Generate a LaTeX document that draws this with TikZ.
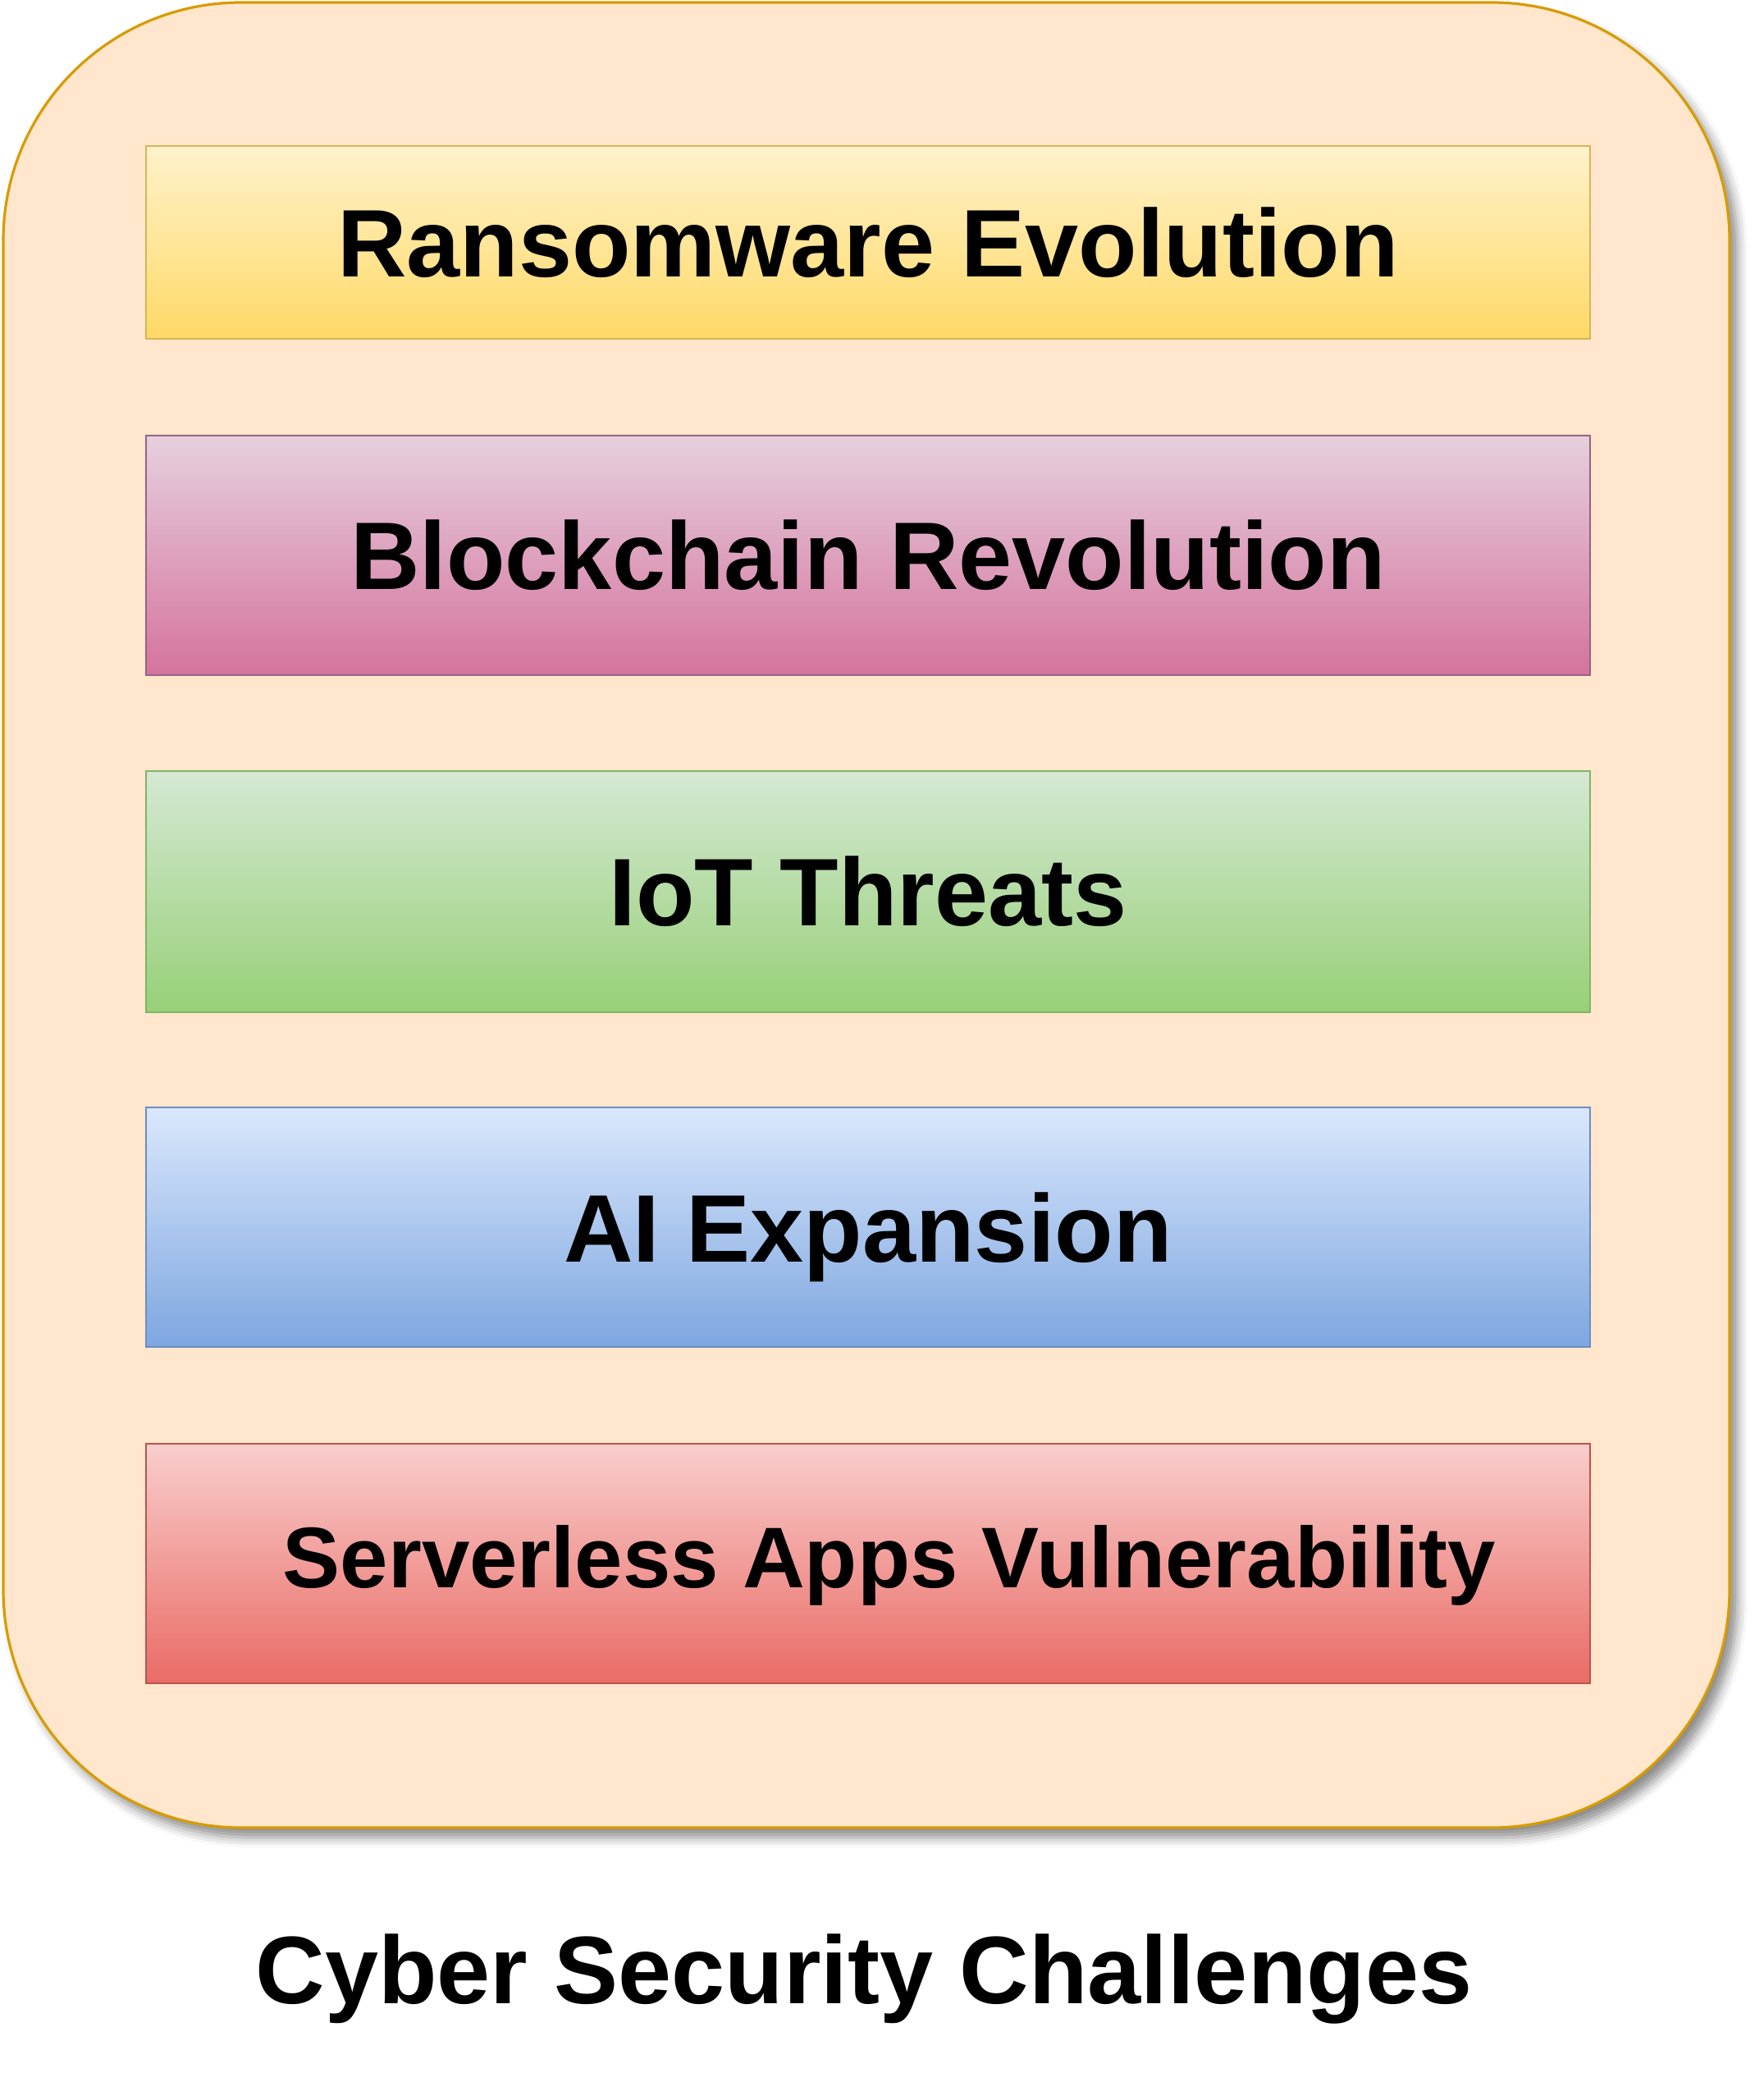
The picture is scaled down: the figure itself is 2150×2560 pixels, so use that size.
\documentclass[tikz,border=0pt]{standalone}
\usepackage{fontspec}
\setmainfont{Liberation Sans}
\usetikzlibrary{shadows,shadows.blur}
\definecolor{outerfill}{HTML}{FFE6CC}
\definecolor{outerdraw}{HTML}{D79B00}
\definecolor{yTop}{HTML}{FFF2CC}\definecolor{yBot}{HTML}{FFD966}\definecolor{yDraw}{HTML}{D6B656}
\definecolor{pTop}{HTML}{E6D0DE}\definecolor{pBot}{HTML}{D5739D}\definecolor{pDraw}{HTML}{996185}
\definecolor{gTop}{HTML}{D5E8D4}\definecolor{gBot}{HTML}{97D077}\definecolor{gDraw}{HTML}{82B366}
\definecolor{bTop}{HTML}{DAE8FC}\definecolor{bBot}{HTML}{7EA6E0}\definecolor{bDraw}{HTML}{6C8EBF}
\definecolor{rTop}{HTML}{F8CECC}\definecolor{rBot}{HTML}{EA6B66}\definecolor{rDraw}{HTML}{B85450}
\tikzset{
  layerbox/.style={rectangle, minimum width=880pt, line width=1.2pt, inner sep=0pt,
    font=\bfseries\fontsize{58.5}{64}\selectfont, text=black},
}
\begin{document}
\begin{tikzpicture}[x=0.5pt,y=-0.5pt]
\useasboundingbox (0,0) rectangle (2150,2560);
% outer container
\node (outer) [draw=outerdraw, fill=outerfill, line width=1.6pt, rounded corners=145pt,
  minimum width=1052pt, minimum height=1112.5pt, inner sep=0pt,
  blur shadow={shadow xshift=5pt, shadow yshift=-6pt, shadow blur radius=6pt, shadow opacity=45}]
  at (1056,1115.5) {};
% layers
\node (l1) [layerbox, draw=yDraw, top color=yTop, bottom color=yBot, minimum height=117.5pt] at (1058,295.5) {Ransomware Evolution};
\node (l2) [layerbox, draw=pDraw, top color=pTop, bottom color=pBot, minimum height=146pt] at (1058,677) {Blockchain Revolution};
\node (l3) [layerbox, draw=gDraw, top color=gTop, bottom color=gBot, minimum height=147pt] at (1058,1087) {IoT Threats};
\node (l4) [layerbox, draw=bDraw, top color=bTop, bottom color=bBot, minimum height=146pt] at (1058,1496) {};
\node (l4t) [font=\bfseries\fontsize{58.5}{64}\selectfont, inner sep=0pt] at (1058,1508) {AI Expansion};
\node (l5) [layerbox, draw=rDraw, top color=rTop, bottom color=rBot, minimum height=146pt] at (1058,1906) {};
\node (l5t) [font=\bfseries\fontsize{52.5}{58}\selectfont, inner sep=0pt] at (1084,1908) {Serverless Apps Vulnerability};
% title
\node (title) [font=\bfseries\fontsize{58.5}{64}\selectfont, inner sep=0pt] at (1053,2412) {Cyber Security Challenges};
\end{tikzpicture}
\end{document}
